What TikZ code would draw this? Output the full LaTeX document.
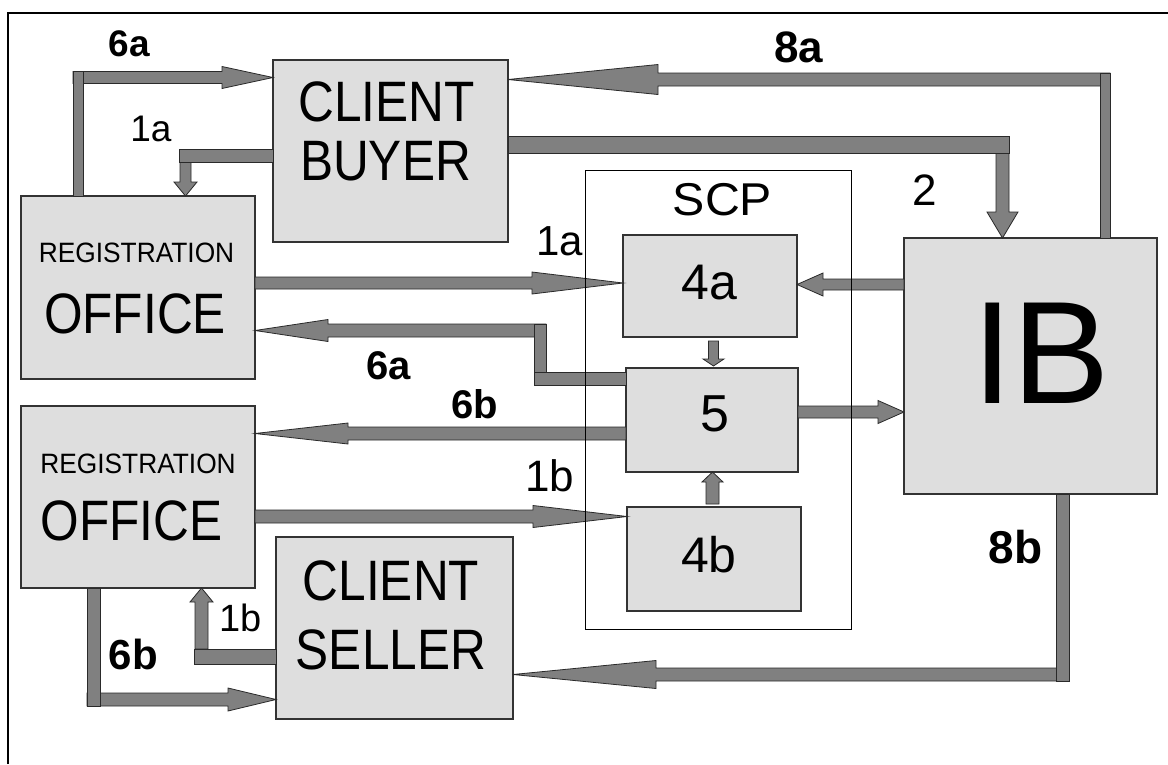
\documentclass[tikz,border=0pt]{standalone}
\usepackage{fontspec}
\usepackage{graphicx}
\setmainfont{Liberation Sans}
\usetikzlibrary{calc}
\definecolor{boxfill}{HTML}{DEDEDE}
\definecolor{boxline}{HTML}{333333}
\definecolor{arrowfill}{HTML}{808080}
\definecolor{arrowline}{HTML}{2A2A2A}

% #1 start, #2 tip, #3 half bar width, #4 head length, #5 half head width
\newcommand\fatarrow[5]{%
  \filldraw[arrowbody] let \p1=#1, \p2=#2,
    \n1={veclen(\x2-\x1,\y2-\y1)}, \n2={(\x2-\x1)/\n1}, \n3={(\y2-\y1)/\n1} in
    ({\x1-\n3*#3},{\y1+\n2*#3}) -- ({\x2-\n2*#4-\n3*#3},{\y2-\n3*#4+\n2*#3})
    -- ({\x2-\n2*#4-\n3*#5},{\y2-\n3*#4+\n2*#5}) -- (\x2,\y2)
    -- ({\x2-\n2*#4+\n3*#5},{\y2-\n3*#4-\n2*#5}) -- ({\x2-\n2*#4+\n3*#3},{\y2-\n3*#4-\n2*#3})
    -- ({\x1+\n3*#3},{\y1-\n2*#3}) -- cycle;}
% #1 start, #2 end, #3 half bar width
\newcommand\fatseg[3]{%
  \filldraw[arrowbody] let \p1=#1, \p2=#2,
    \n1={veclen(\x2-\x1,\y2-\y1)}, \n2={(\x2-\x1)/\n1}, \n3={(\y2-\y1)/\n1} in
    ({\x1-\n3*#3},{\y1+\n2*#3}) rectangle ({\x2+\n3*#3},{\y2-\n2*#3});}
\newcommand\narrow[1]{\scalebox{0.87}[1]{#1}}

\begin{document}
\begin{tikzpicture}[x=1pt,y=-1pt,
  box/.style={draw=boxline, fill=boxfill, line width=1.3pt, inner sep=0pt, outer sep=0pt},
  scpbox/.style={draw=black, line width=1pt, inner sep=0pt, outer sep=0pt},
  arrowbody/.style={fill=arrowfill, draw=arrowline, line width=0.8pt, line join=miter},
  txt/.style={inner sep=0pt, outer sep=0pt, text=black},
  bigtxt/.style={txt, font=\fontsize{57}{57}\selectfont},
  lbl/.style={inner sep=0pt, outer sep=0pt, text=black},
]
\useasboundingbox (0,0) rectangle (1168,764);
\fill[white] (0,0) rectangle (1168,764);
\draw[line width=2.6pt] (8,764) -- (8,13) -- (1168,13);

% boxes
\node[box, minimum width=235pt, minimum height=182pt] (CB) at (390.5,151) {};
\node[box, minimum width=234pt, minimum height=183pt] (RO1) at (138,287.5) {};
\node[box, minimum width=234pt, minimum height=182pt] (RO2) at (138,497) {};
\node[box, minimum width=237pt, minimum height=182pt] (CS) at (394.5,628) {};
\node[box, minimum width=174pt, minimum height=102pt] (A4) at (710,286) {};
\node[box, minimum width=172pt, minimum height=104pt] (B5) at (712,420) {};
\node[box, minimum width=174pt, minimum height=104pt] (B4) at (714,559) {};
\node[box, minimum width=253pt, minimum height=256pt] (IB) at (1030.5,366) {};

% box texts
\node[bigtxt] (tcb1) at (386.5,102) {\narrow{CLIENT}};
\node[bigtxt] (tcb2) at (385.5,161) {\narrow{BUYER}};
\node[txt, font=\fontsize{28}{28}\selectfont] (tro1a) at (136.5,252.5) {\scalebox{0.94}[1]{REGISTRATION}};
\node[bigtxt] (tro1b) at (135,314) {\narrow{OFFICE}};
\node[txt, font=\fontsize{28}{28}\selectfont] (tro2a) at (138,464) {\scalebox{0.94}[1]{REGISTRATION}};
\node[bigtxt] (tro2b) at (131.5,521) {\narrow{OFFICE}};
\node[bigtxt] (tcs1) at (391,581) {\narrow{CLIENT}};
\node[bigtxt] (tcs2) at (391,650) {\narrow{SELLER}};
\node[txt, font=\fontsize{46}{46}\selectfont] (tscp) at (722.5,200) {\scalebox{1.05}[1]{SCP}};
\node[txt, font=\fontsize{50}{50}\selectfont] (t4a) at (709.5,282.5) {4a};
\node[txt, font=\fontsize{52}{52}\selectfont] (t5) at (714.5,413.5) {5};
\node[txt, font=\fontsize{50}{50}\selectfont] (t4b) at (709,555) {4b};
\node[txt, font=\fontsize{146}{146}\selectfont] (tib) at (1041,353.5) {IB};

% connectors
% 6a: registration office 1 -> client buyer
\coordinate (b6a) at (78,77.5);
\fatarrow{(73,77.5)}{(CB.west |- b6a)}{6}{51}{11}
\fatseg{(78,71.5)}{(b6a |- RO1.north)}{5}
% 1a: client buyer -> registration office 1
\coordinate (b1a) at (185.5,155.5);
\fatarrow{(b1a)}{(b1a |- RO1.north)}{5.5}{14}{11.5}
\fatseg{(CB.west |- b1a)}{(179,155.5)}{6.5}
% 8a: IB -> client buyer
\coordinate (b8a) at (1105.5,79.5);
\fatarrow{(1110,79.5)}{(CB.east |- b8a)}{6.5}{150}{15}
\fatseg{(1105.5,73)}{(b8a |- IB.north)}{5}
% 2: client buyer -> IB
\coordinate (b2) at (1002.5,144.5);
\fatarrow{(b2)}{(b2 |- IB.north)}{6.5}{26}{15.5}
\fatseg{(CB.east |- b2)}{(1009,144.5)}{8.5}
% 1a: registration office 1 -> 4a
\coordinate (yE) at (0,283);
\fatarrow{(RO1.east |- yE)}{(A4.west |- yE)}{6}{91}{11}
% IB -> 4a
\coordinate (yF) at (0,284.5);
\fatarrow{(IB.west |- yF)}{(A4.east |- yF)}{5.5}{26}{11.5}
% 4a -> 5
\coordinate (xG) at (713.5,0);
\fatarrow{($(xG |- A4.south)+(0,4)$)}{($(xG |- B5.north)+(0,-2)$)}{5}{7}{10.5}
% 6a: 5 -> registration office 1
\coordinate (b6am) at (540,378.5);
\coordinate (b6au) at (540,330.5);
\fatarrow{(546,330.5)}{(RO1.east |- b6au)}{6.5}{73}{11}
\fatseg{(540,324)}{(540,385)}{6}
\fatseg{(B5.west |- b6am)}{(534,378.5)}{6.5}
% 6b: 5 -> registration office 2
\coordinate (yI) at (0,433.5);
\fatarrow{(B5.west |- yI)}{(RO2.east |- yI)}{6.5}{93}{10.5}
% 5 -> IB
\coordinate (yJ) at (0,412);
\fatarrow{(B5.east |- yJ)}{(IB.west |- yJ)}{6}{26}{11.5}
% 4b -> 5
\coordinate (xK) at (712.5,0);
\fatarrow{($(xK |- B4.north)+(0,-3)$)}{(xK |- B5.south)}{6.5}{10}{10.5}
% 1b: registration office 2 -> 4b
\coordinate (yL) at (0,516.5);
\fatarrow{(RO2.east |- yL)}{(B4.west |- yL)}{6.5}{94}{11}
% 6b: registration office 2 -> client seller
\coordinate (b6b) at (93.5,699.5);
\fatarrow{(87,699.5)}{(CS.west |- b6b)}{6.5}{48}{11.5}
\fatseg{(b6b |- RO2.south)}{(93.5,706)}{6.5}
% 1b: client seller -> registration office 2
\coordinate (b1b) at (201.5,656.5);
\fatarrow{(201.5,649)}{(b1b |- RO2.south)}{6.5}{14}{11.5}
\fatseg{(CS.west |- b1b)}{(194,656.5)}{7.5}
% 8b: IB -> client seller
\coordinate (b8b) at (1062.5,674.5);
\fatarrow{(1069,674.5)}{(CS.east |- b8b)}{6.5}{143}{14}
\fatseg{(b8b |- IB.south)}{(1062.5,681)}{6.5}

% SCP frame (over the connectors)
\node[scpbox, minimum width=266pt, minimum height=459pt] (SCP) at (718,399.5) {};

% connector labels
\node[lbl, font=\bfseries\fontsize{37}{37}\selectfont] (l6a1) at (129.5,43.5) {6a};
\node[lbl, font=\fontsize{37}{37}\selectfont] (l1a1) at (151,129) {1a};
\node[lbl, font=\bfseries\fontsize{44}{44}\selectfont] (l8a) at (798.5,47.5) {8a};
\node[lbl, font=\fontsize{44}{44}\selectfont] (l2) at (925,190) {2};
\node[lbl, font=\fontsize{42}{42}\selectfont] (l1a2) at (560,241) {1a};
\node[lbl, font=\bfseries\fontsize{40}{40}\selectfont] (l6a2) at (388.5,365.5) {6a};
\node[lbl, font=\bfseries\fontsize{40}{40}\selectfont] (l6b1) at (474.5,404) {6b};
\node[lbl, font=\fontsize{44}{44}\selectfont] (l1b1) at (549.5,476) {1b};
\node[lbl, font=\bfseries\fontsize{42}{42}\selectfont] (l6b2) at (133.5,654) {6b};
\node[lbl, font=\fontsize{38}{38}\selectfont] (l1b2) at (240.5,618) {1b};
\node[lbl, font=\bfseries\fontsize{46}{46}\selectfont] (l8b) at (1015.5,547) {8b};
\end{tikzpicture}
\end{document}
